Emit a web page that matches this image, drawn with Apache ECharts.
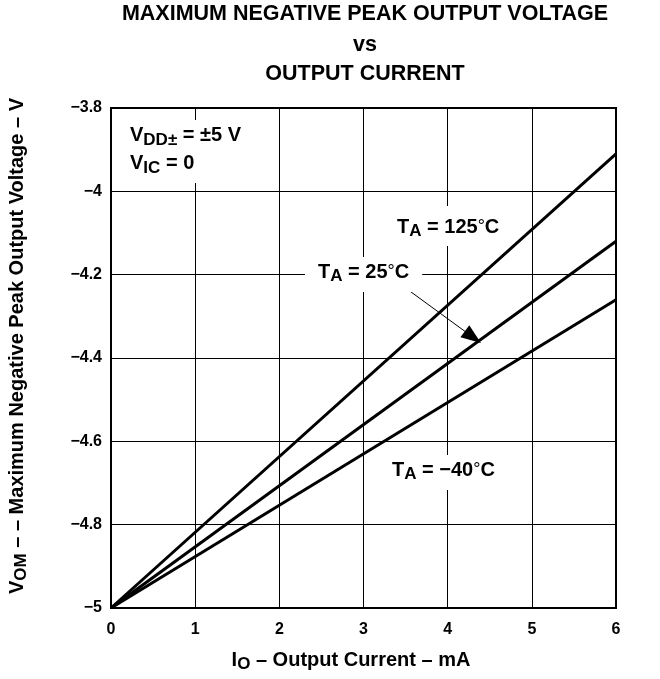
<!DOCTYPE html>
<html><head><meta charset="utf-8">
<script src="https://cdn.jsdelivr.net/npm/echarts@6/dist/echarts.min.js"></script>
<style>html,body{margin:0;padding:0;background:#fff}#c{width:660px;height:679px}</style>
</head><body><div id="c"></div>
<script>
// Data
const xTicks = [0, 1, 2, 3, 4, 5, 6];
const yTicks = [-5, -4.8, -4.6, -4.4, -4.2, -4, -3.8];
const currentMA = [0, 6];
const vom125 = [-5, -3.91];
const vom25 = [-5, -4.12];
const vomM40 = [-5, -4.26];
const arrowFrom = [3.5, -4.232];
const arrowTo = [4.3, -4.35];

const F = '"Liberation Sans", Arial, sans-serif';
const chart = echarts.init(document.getElementById('c'), null, {renderer: 'canvas'});
const mk = v => currentMA.map((x, i) => [x, v[i]]);
const fmtMinus = v => String(+v.toFixed(1)).replace('-', '\u2212');
const lineStyle = {color: '#000', width: 3};

function richSet(L) {
  return {
    b: {fontFamily: F, fontWeight: 'bold', fontSize: 20, lineHeight: L, verticalAlign: 'middle', color: '#000'},
    s: {fontFamily: F, fontWeight: 'bold', fontSize: 17, lineHeight: 14, verticalAlign: 'bottom', color: '#000'},
    d: {fontFamily: F, fontWeight: 'normal', fontSize: 18, lineHeight: L, verticalAlign: 'middle', color: '#000'}
  };
}
function titleText(txt, y) {
  return {type: 'text', x: 365, y: y, z: 10, style: {
    text: txt, fill: '#000', align: 'center', verticalAlign: 'middle',
    font: 'bold 21.5px ' + F
  }};
}

chart.setOption({
  animation: false,
  backgroundColor: '#fff',
  grid: {left: 111, right: 44, top: 108, bottom: 71, show: true, borderColor: '#000', borderWidth: 2, backgroundColor: 'transparent'},
  xAxis: {
    type: 'value', min: 0, max: 6, interval: 1,
    axisLine: {show: true, lineStyle: {color: '#000', width: 2}},
    axisTick: {show: false},
    splitLine: {show: true, lineStyle: {color: '#000', width: 1}},
    axisLabel: {color: '#000', fontFamily: F, fontWeight: 'bold', fontSize: 16, margin: 14}
  },
  yAxis: {
    type: 'value', min: -5, max: -3.8, interval: 0.2,
    axisLine: {show: true, lineStyle: {color: '#000', width: 2}},
    axisTick: {show: false},
    splitLine: {show: true, lineStyle: {color: '#000', width: 1}},
    axisLabel: {color: '#000', fontFamily: F, fontWeight: 'bold', fontSize: 16, margin: 9, formatter: fmtMinus}
  },
  series: [
    {type: 'line', data: mk(vom125), symbol: 'none', lineStyle, z: 5},
    {type: 'line', data: mk(vom25), symbol: 'none', lineStyle, z: 5,
      markLine: {
        silent: true, symbol: ['none', 'triangle'], symbolSize: [15, 20],
        lineStyle: {color: '#000', width: 1, type: 'solid'},
        label: {show: false},
        data: [[{coord: arrowFrom}, {coord: arrowTo}]]
      }},
    {type: 'line', data: mk(vomM40), symbol: 'none', lineStyle, z: 5}
  ],
  graphic: [
    titleText('MAXIMUM NEGATIVE PEAK OUTPUT VOLTAGE', 14),
    titleText('vs', 45),
    titleText('OUTPUT CURRENT', 74),
    {type: 'text', left: 121, top: 120, z: 10, style: {
      text: '{b|V}{s|DD\u00b1}{b| = \u00b15 V}\n{b|V}{s|IC}{b| = 0}',
      rich: richSet(28), fill: '#000', backgroundColor: '#fff', padding: [1, 8, 6, 9]
    }},
    {type: 'text', left: 391, top: 206, z: 10, style: {
      text: '{b|T}{s|A}{b| = 125}{d|\u00b0}{b|C}',
      rich: richSet(26), fill: '#000', backgroundColor: '#fff', padding: [8, 6, 6, 6]
    }},
    {type: 'text', left: 305, top: 257, z: 10, style: {
      text: '{b|T}{s|A}{b| = 25}{d|\u00b0}{b|C}',
      rich: richSet(26), fill: '#000', backgroundColor: '#fff', padding: [2, 13, 7, 13]
    }},
    {type: 'text', left: 386, top: 455, z: 10, style: {
      text: '{b|T}{s|A}{b| = \u221240}{d|\u00b0}{b|C}',
      rich: richSet(26), fill: '#000', backgroundColor: '#fff', padding: [2, 6, 7, 6]
    }},
    {type: 'text', x: 351, y: 660, z: 10, style: {
      text: '{b|I}{s|O}{b| \u2013 Output Current \u2013 mA}',
      rich: richSet(26), fill: '#000', align: 'center', verticalAlign: 'middle'
    }},
    {type: 'text', x: 17, y: 346, rotation: Math.PI / 2, z: 10, style: {
      text: '{b|V}{s|OM}{b| \u2013 \u2013 Maximum Negative Peak Output Voltage \u2013 V}',
      rich: richSet(26), fill: '#000', align: 'center', verticalAlign: 'middle'
    }}
  ]
});
</script></body></html>
